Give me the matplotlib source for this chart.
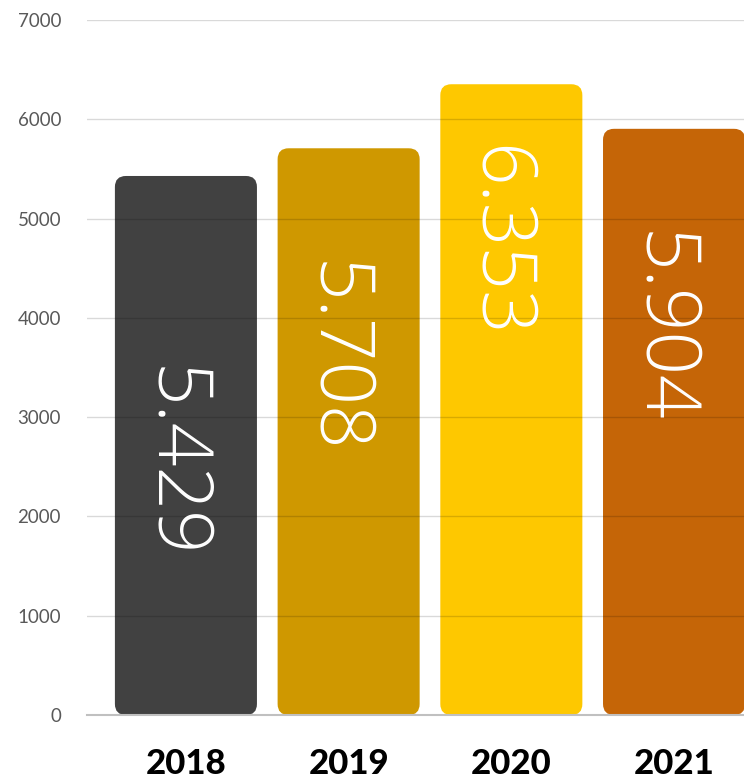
import matplotlib
matplotlib.use("Agg")
import matplotlib.pyplot as plt
from matplotlib.patches import FancyBboxPatch

years = ["2018", "2019", "2020", "2021"]
values = [5429, 5708, 6353, 5904]
value_labels = ["5.429", "5.708", "6.353", "5.904"]
label_y = [2550, 3600, 4770, 3910]
colors = ["#414141", "#CF9800", "#FEC800", "#C56507"]
yticks = [0, 1000, 2000, 3000, 4000, 5000, 6000, 7000]

W, H = 744, 782
fig = plt.figure(figsize=(W / 100, H / 100), dpi=100)
ax = fig.add_axes([87 / W, (H - 715) / H, (744 - 87) / W, (715 - 20) / H])
ax.set_xlim(-0.608, 3.43)
ax.set_ylim(0, 7000)

bw = 0.873
px_x = (3.43 + 0.608) / (744 - 87)
px_y = 7000 / (715 - 20)
aspect = px_y / px_x
r = 11 * px_x

bars = ax.bar(range(len(years)), values, width=bw, color=colors, zorder=2)
for b, c in zip(bars, colors):
    b.set_visible(False)
    p = FancyBboxPatch((b.get_x(), 0), b.get_width(), b.get_height(),
                       boxstyle=f"round,pad=0,rounding_size={r}",
                       mutation_aspect=aspect, facecolor=c, edgecolor="none",
                       zorder=2)
    ax.add_patch(p)

for i, (lab, ly) in enumerate(zip(value_labels, label_y)):
    ax.text(i - 0.083, ly, lab, rotation=270, ha="center", va="center",
            color="white", fontsize=55, family=["Open Sans", "DejaVu Sans"],
            fontweight=300, zorder=4)

ax.set_yticks(yticks)
ax.set_yticklabels([str(t) for t in yticks], fontsize=13.5,
                   family=["Lato", "DejaVu Sans"], color="#595959")
ax.yaxis.grid(True, color="black", alpha=0.15, linewidth=1, zorder=3)
ax.set_axisbelow(False)
ax.tick_params(axis="y", length=0, pad=18.7)
ax.set_xticks(range(len(years)))
ax.set_xticklabels(years, fontsize=25, fontweight="black",
                   family=["Lato", "DejaVu Sans"], color="black")
ax.tick_params(axis="x", length=0, pad=24)
for s in ["top", "right", "left"]:
    ax.spines[s].set_visible(False)
ax.spines["bottom"].set_color("#c0c0c0")
ax.spines["bottom"].set_linewidth(1.5)
ax.spines["bottom"].set_zorder(5)

fig.savefig("out.png", dpi=100)
